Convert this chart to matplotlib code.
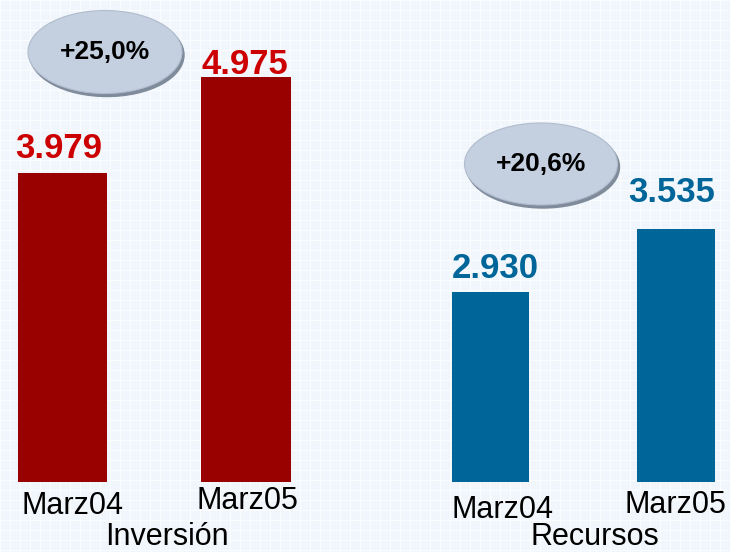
import matplotlib.pyplot as plt
from matplotlib.patches import Ellipse

plt.rcParams['font.family'] = ['Liberation Sans', 'DejaVu Sans']

# datos
periodos = ['Marz04', 'Marz05']
inversion = [3979, 4975]
recursos = [2930, 3535]
inv_labels = ['3.979', '4.975']
rec_labels = ['2.930', '3.535']
grupos = ['Inversión', 'Recursos']
variaciones = ['+25,0%', '+20,6%']

W, H = 731, 552
fig = plt.figure(figsize=(W / 100, H / 100), dpi=100)
fig.patch.set_facecolor('#F0F6FB')

# fondo con cuadricula
bg = fig.add_axes([0, 0, 1, 1])
bg.set_xlim(0, W)
bg.set_ylim(H, 0)
bg.axis('off')
for x in range(0, W, 10):
    bg.axvline(x, color='#FAFCFE', lw=0.8)
for y in range(0, H, 10):
    bg.axhline(y, color='#FAFCFE', lw=0.8)

# elipses de variacion (pixeles)
elipses = [(105, 52, 154, 83), (541, 164, 153, 82)]
for (cx, cy, ew, eh), txt in zip(elipses, variaciones):
    bg.add_patch(Ellipse((cx + 2, cy + 3), ew, eh, color='#7F8A9A', zorder=2))
    bg.add_patch(Ellipse((cx, cy), ew, eh, facecolor='#C4CFE0',
                         edgecolor='#B0BCCD', lw=0.8, zorder=3))
    bg.text(cx, cy, txt, ha='center', va='center', fontsize=19,
            fontweight='bold', color='black', zorder=4)

bottom = 70 / H


def grupo(left, width, vals, labels, ylim, xlim, bw, bar_c, lab_c, lab_off, tick_off):
    ax = fig.add_axes([left, bottom, width, 1 - bottom])
    ax.set_facecolor('none')
    x = range(len(vals))
    ax.bar(x, vals, width=bw, color=bar_c, bottom=0)
    ax.set_ylim(*ylim)
    ax.set_xlim(*xlim)
    ax.axis('off')
    for i, (v, lab) in enumerate(zip(vals, labels)):
        ax.annotate(lab, xy=(i, v), xytext=lab_off[i], textcoords='offset pixels',
                    ha='center', va='baseline', fontsize=25, fontweight='bold',
                    color=lab_c)
        ax.annotate(periodos[i], xy=(i, ylim[0]), xytext=tick_off[i],
                    textcoords='offset pixels', ha='center', va='baseline',
                    fontsize=22, color='black', annotation_clip=False)
    return ax


grupo(0, 365.5 / W, inversion, inv_labels, (773, 5774), (-0.3406, 1.651), 0.49,
      '#990000', '#CC0000', [(-4, 15), (-1, 3)], [(10, -32), (1, -27)])
grupo(365.5 / W, 365.5 / W, recursos, rec_labels, (1105, 5735), (-0.674, 1.296), 0.418,
      '#006699', '#006699', [(5, 14), (-4, 27)], [(12, -36), (-1, -31)])

fig.text(167 / W, 1 - 545 / H, grupos[0], ha='center', va='baseline', fontsize=22)
fig.text(595 / W, 1 - 545 / H, grupos[1], ha='center', va='baseline', fontsize=22)

fig.savefig('out.png', dpi=100)
